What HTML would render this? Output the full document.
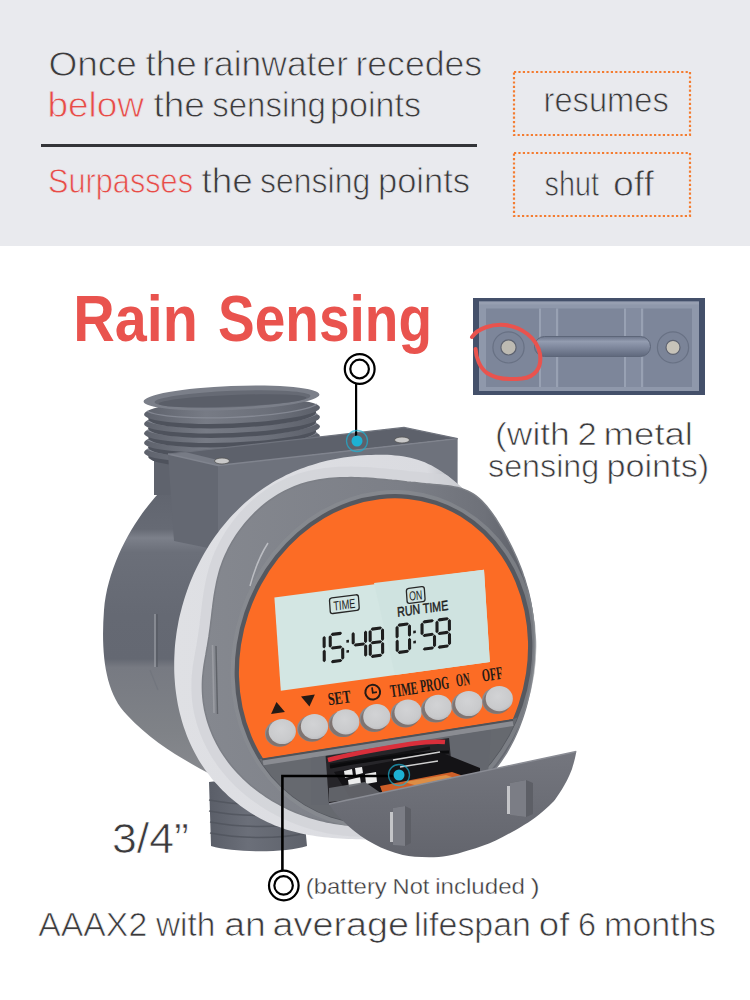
<!DOCTYPE html>
<html><head><meta charset="utf-8">
<style>
html,body{margin:0;padding:0;background:#fff;}
body{width:750px;height:1000px;overflow:hidden;position:relative;}
svg{position:absolute;left:0;top:0;display:block;}
text{font-family:"Liberation Sans",sans-serif;}
</style></head>
<body>
<svg width="750" height="1000" viewBox="0 0 750 1000">
<!-- top banner -->
<rect x="0" y="0" width="750" height="246" fill="#e9eaee"/>
<g stroke="#e9eaee" stroke-width="0.8">
<text x="48.4" y="75.5" font-size="35" font-weight="400" fill="#3b3a3c" textLength="88.6" lengthAdjust="spacingAndGlyphs">Once</text>
<text x="145.4" y="75.5" font-size="35" font-weight="400" fill="#3b3a3c" textLength="51.4" lengthAdjust="spacingAndGlyphs">the</text>
<text x="202.2" y="75.5" font-size="35" font-weight="400" fill="#3b3a3c" textLength="145.8" lengthAdjust="spacingAndGlyphs">rainwater</text>
<text x="355.4" y="75.5" font-size="35" font-weight="400" fill="#3b3a3c" textLength="126.8" lengthAdjust="spacingAndGlyphs">recedes</text>
<text x="47.4" y="117" font-size="35" font-weight="400" fill="#e84c47" textLength="96.6" lengthAdjust="spacingAndGlyphs">below</text>
<text x="153.4" y="117" font-size="35" font-weight="400" fill="#3b3a3c" textLength="51.4" lengthAdjust="spacingAndGlyphs">the</text>
<text x="212.2" y="117" font-size="35" font-weight="400" fill="#3b3a3c" textLength="113.8" lengthAdjust="spacingAndGlyphs">sensing</text>
<text x="330.0" y="117" font-size="35" font-weight="400" fill="#3b3a3c" textLength="91.0" lengthAdjust="spacingAndGlyphs">points</text>
<text x="48.0" y="193.3" font-size="35" font-weight="400" fill="#e84c47" textLength="145.0" lengthAdjust="spacingAndGlyphs">Surpasses</text>
<text x="201.4" y="193.3" font-size="35" font-weight="400" fill="#3b3a3c" textLength="51.4" lengthAdjust="spacingAndGlyphs">the</text>
<text x="260.0" y="193.3" font-size="35" font-weight="400" fill="#3b3a3c" textLength="110.2" lengthAdjust="spacingAndGlyphs">sensing</text>
<text x="378.0" y="193.3" font-size="35" font-weight="400" fill="#3b3a3c" textLength="92.0" lengthAdjust="spacingAndGlyphs">points</text>
<text x="543.6" y="112" font-size="35" font-weight="400" fill="#3b3a3c" textLength="125.2" lengthAdjust="spacingAndGlyphs">resumes</text>
<text x="544.6" y="196" font-size="35" font-weight="400" fill="#3b3a3c" textLength="54.4" lengthAdjust="spacingAndGlyphs">shut</text>
<text x="613.0" y="196" font-size="35" font-weight="400" fill="#3b3a3c" textLength="41.0" lengthAdjust="spacingAndGlyphs">off</text>
</g>
<rect x="41" y="144" width="436" height="3" fill="#333438"/>
<rect x="514" y="72" width="176" height="63" fill="none" stroke="#f47c30" stroke-width="2.2" stroke-dasharray="2.2 2.2"/>
<rect x="514" y="153" width="176" height="63" fill="none" stroke="#f47c30" stroke-width="2.2" stroke-dasharray="2.2 2.2"/>

<!-- Rain Sensing -->
<text x="73.2" y="341" font-size="64" font-weight="700" fill="#e9534e" textLength="124.6" lengthAdjust="spacingAndGlyphs">Rain</text>
<text x="218.0" y="341" font-size="64" font-weight="700" fill="#e9534e" textLength="214.0" lengthAdjust="spacingAndGlyphs">Sensing</text>

<!-- inset image -->
<g>
<rect x="473" y="298" width="232" height="97" fill="#44506a"/>
<rect x="479" y="301.5" width="220" height="89.5" fill="#8f98ab"/>
<rect x="486" y="308.5" width="206" height="78.5" fill="#7d869a"/>
<rect x="479" y="301.5" width="220" height="3" fill="#9aa2b4" opacity="0.7"/>
<g fill="#98a1b3">
<rect x="539" y="308.5" width="2.2" height="78.5"/><rect x="556" y="308.5" width="2.2" height="78.5"/>
<rect x="624" y="308.5" width="2.2" height="78.5"/><rect x="641" y="308.5" width="2.2" height="78.5"/>
</g>
<rect x="541" y="308.5" width="15" height="78.5" fill="#838ca0"/>
<rect x="626" y="308.5" width="15" height="78.5" fill="#838ca0"/>
<defs><linearGradient id="hdl" x1="0" y1="0" x2="0" y2="1"><stop offset="0" stop-color="#6c758a"/><stop offset="0.25" stop-color="#939cb0"/><stop offset="0.6" stop-color="#7b8499"/><stop offset="1" stop-color="#5f687c"/></linearGradient></defs>
<rect x="534.5" y="336.5" width="116" height="20" rx="10" fill="url(#hdl)" stroke="#5d6679" stroke-width="1"/>
<circle cx="508.5" cy="347.4" r="15.6" fill="#7b8498" stroke="#687184" stroke-width="1.2"/>
<circle cx="508.5" cy="347.4" r="7.6" fill="#bdbab2" stroke="#5d6270" stroke-width="1.2"/>
<circle cx="673" cy="347.4" r="15.6" fill="#7b8498" stroke="#687184" stroke-width="1.2"/>
<circle cx="673" cy="347.4" r="7" fill="#c7c3b9" stroke="#5d6270" stroke-width="1.2"/>
<path d="M472,337 C478,328 492,324 505,325 C522,327 537,338 540,354 C542,368 535,377 522,378.6 C508,380 496,379 487,373 C480,368 476,358 475.6,349" fill="none" stroke="#e9534e" stroke-width="4" stroke-linecap="round"/>
</g>
<g stroke="#ffffff" stroke-width="0.7">
<text x="495.0" y="444.6" font-size="32" font-weight="400" fill="#3b3a3c" textLength="74.8" lengthAdjust="spacingAndGlyphs">(with</text>
<text x="577.4" y="444.6" font-size="32" font-weight="400" fill="#3b3a3c" textLength="19.2" lengthAdjust="spacingAndGlyphs">2</text>
<text x="603.6" y="444.6" font-size="32" font-weight="400" fill="#3b3a3c" textLength="89.4" lengthAdjust="spacingAndGlyphs">metal</text>
<text x="488.0" y="476.6" font-size="32" font-weight="400" fill="#3b3a3c" textLength="111.2" lengthAdjust="spacingAndGlyphs">sensing</text>
<text x="606.4" y="476.6" font-size="32" font-weight="400" fill="#3b3a3c" textLength="102.8" lengthAdjust="spacingAndGlyphs">points)</text>
</g>

<!-- DEVICE -->
<g id="device">
<defs>
<linearGradient id="cyl" x1="0" y1="0" x2="0" y2="1">
<stop offset="0" stop-color="#60646e"/><stop offset="0.15" stop-color="#666a74"/><stop offset="0.18" stop-color="#7c808a"/><stop offset="0.23" stop-color="#6b6f79"/><stop offset="0.45" stop-color="#656973"/><stop offset="0.6" stop-color="#646872"/><stop offset="0.63" stop-color="#777a82"/><stop offset="0.85" stop-color="#7f8287"/><stop offset="1" stop-color="#87898e"/>
</linearGradient>
<linearGradient id="ring" x1="0" y1="0" x2="1" y2="0">
<stop offset="0" stop-color="#dfe0e4"/><stop offset="0.7" stop-color="#dadbe0"/><stop offset="0.8" stop-color="#b3b5bb"/><stop offset="0.9" stop-color="#6c6f77"/><stop offset="1" stop-color="#5a5d65"/>
</linearGradient>
<linearGradient id="house" x1="0" y1="0" x2="1" y2="0">
<stop offset="0" stop-color="#85888f"/><stop offset="0.6" stop-color="#7c7f87"/><stop offset="0.85" stop-color="#6e7179"/><stop offset="1" stop-color="#5a5d65"/>
</linearGradient>
<linearGradient id="thread" x1="0" y1="0" x2="1" y2="0">
<stop offset="0" stop-color="#5e626c"/><stop offset="0.35" stop-color="#777b85"/><stop offset="0.7" stop-color="#6c707a"/><stop offset="1" stop-color="#5c606a"/>
</linearGradient>
<linearGradient id="pipe2" x1="0" y1="0" x2="1" y2="0"><stop offset="0" stop-color="#5a5e68"/><stop offset="0.4" stop-color="#6b6f79"/><stop offset="1" stop-color="#5e626b"/></linearGradient>
<linearGradient id="door" x1="0" y1="0" x2="0" y2="1">
<stop offset="0" stop-color="#74767e"/><stop offset="1" stop-color="#63656d"/>
</linearGradient>
<radialGradient id="btn" cx="0.45" cy="0.4" r="0.7">
<stop offset="0" stop-color="#d2d3d5"/><stop offset="0.7" stop-color="#c9cacc"/><stop offset="1" stop-color="#b4b5b9"/>
</radialGradient>
</defs>
<!-- bottom pipe (behind) -->
<path d="M209,782 L300,772 L307,846 C285,853 235,853 211,846 Z" fill="url(#pipe2)"/>
<g fill="none" stroke="#50545d" stroke-width="1.6" opacity="0.8">
<path d="M209,800 C240,806 280,806 304,800"/><path d="M209,811 C240,817 280,817 305,811"/><path d="M210,822 C240,828 280,828 306,822"/><path d="M210,833 C240,839 280,839 307,833"/>
</g>
<!-- cylinder body -->
<path d="M166,486 C140,510 108,560 104,610 C101,650 104,692 127,715 C152,742 182,759 210,774 L330,774 L330,486 Z" fill="url(#cyl)"/>
<path d="M155,614 L155,667" stroke="#9da0a7" stroke-width="1.2"/><path d="M157,614 L157,667" stroke="#50545d" stroke-width="1"/>
<path d="M150,670 L158,690" stroke="#70747c" stroke-width="1.2" opacity="0.7"/>
<!-- neck -->
<rect x="154" y="450" width="22" height="45" fill="#5f636d"/>
<!-- threaded pipe -->
<ellipse cx="232" cy="453.5" rx="84" ry="12.5" transform="rotate(-2.3 232 449.0)" fill="#4e525c"/><ellipse cx="232" cy="449.0" rx="88" ry="12.5" transform="rotate(-2.3 232 449.0)" fill="url(#thread)"/><path d="M147,450.5 A87,12.5 -2.3 0 0 317,443.5" transform="translate(0,-1.5)" fill="none" stroke="#8e929c" stroke-width="1.3" opacity="0.75"/><ellipse cx="232" cy="444.0" rx="84" ry="12.5" transform="rotate(-2.3 232 439.5)" fill="#4e525c"/><ellipse cx="232" cy="439.5" rx="88" ry="12.5" transform="rotate(-2.3 232 439.5)" fill="url(#thread)"/><path d="M147,441.0 A87,12.5 -2.3 0 0 317,434.0" transform="translate(0,-1.5)" fill="none" stroke="#8e929c" stroke-width="1.3" opacity="0.75"/><ellipse cx="232" cy="434.5" rx="84" ry="12.5" transform="rotate(-2.3 232 430.0)" fill="#4e525c"/><ellipse cx="232" cy="430.0" rx="88" ry="12.5" transform="rotate(-2.3 232 430.0)" fill="url(#thread)"/><path d="M147,431.5 A87,12.5 -2.3 0 0 317,424.5" transform="translate(0,-1.5)" fill="none" stroke="#8e929c" stroke-width="1.3" opacity="0.75"/><ellipse cx="232" cy="425.0" rx="84" ry="12.5" transform="rotate(-2.3 232 420.5)" fill="#4e525c"/><ellipse cx="232" cy="420.5" rx="88" ry="12.5" transform="rotate(-2.3 232 420.5)" fill="url(#thread)"/><path d="M147,422.0 A87,12.5 -2.3 0 0 317,415.0" transform="translate(0,-1.5)" fill="none" stroke="#8e929c" stroke-width="1.3" opacity="0.75"/><ellipse cx="232" cy="415.5" rx="84" ry="12.5" transform="rotate(-2.3 232 411.0)" fill="#4e525c"/><ellipse cx="232" cy="411.0" rx="88" ry="12.5" transform="rotate(-2.3 232 411.0)" fill="url(#thread)"/><path d="M147,412.5 A87,12.5 -2.3 0 0 317,405.5" transform="translate(0,-1.5)" fill="none" stroke="#8e929c" stroke-width="1.3" opacity="0.75"/>
<ellipse cx="231.5" cy="398" rx="88" ry="12" transform="rotate(-2.3 231.5 398)" fill="#7b7f89"/>
<ellipse cx="232.5" cy="399" rx="78" ry="8.2" transform="rotate(-2.3 232.5 399)" fill="#666a74"/>
<ellipse cx="232.5" cy="400.8" rx="74" ry="5.8" transform="rotate(-2.3 232.5 400.8)" fill="#5a5e68"/>
<!-- sensor box -->
<polygon points="168,454 218,465.5 218,550 174,541" fill="#646872"/>
<polygon points="218,465.5 457.6,438.6 457.6,486 420,520 300,540 218,550" fill="#6e727c"/>
<polygon points="168,454 404,427.4 457.6,438.6 218,465.5" fill="#5d616b"/>
<polygon points="168,454 185,452 226,462 218,465.5" fill="#777b85"/>
<polyline points="168,454 218,465.5 457.6,438.6" fill="none" stroke="#80848e" stroke-width="1.4"/>
<polyline points="168,454 404,427.4 457.6,438.6" fill="none" stroke="#6f737d" stroke-width="1.2"/>
<ellipse cx="222" cy="461" rx="7.5" ry="3" fill="#c9c9c9" stroke="#555" stroke-width="0.8"/>
<ellipse cx="402" cy="440" rx="7.5" ry="3" fill="#c9c9c9" stroke="#555" stroke-width="0.8"/>
<!-- face housing -->
<path d="M289.8,473.4 L286.2,475.1 L282.7,476.9 L279.2,478.7 L275.8,480.6 L272.4,482.6 L269.0,484.7 L265.8,486.8 L262.5,489.0 L259.3,491.3 L256.2,493.6 L253.1,496.0 L250.1,498.5 L247.1,501.0 L244.2,503.6 L241.3,506.2 L238.5,508.9 L235.8,511.7 L233.0,514.5 L230.4,517.3 L227.8,520.3 L225.3,523.2 L222.8,526.2 L220.3,529.3 L218.0,532.4 L215.7,535.6 L213.4,538.8 L211.2,542.0 L209.1,545.3 L207.0,548.7 L205.0,552.0 L203.0,555.5 L201.1,558.9 L199.3,562.4 L197.5,565.9 L195.8,569.5 L194.1,573.1 L192.5,576.7 L191.0,580.3 L189.5,584.0 L188.1,587.7 L186.8,591.4 L185.5,595.2 L184.3,599.0 L183.2,602.8 L182.1,606.6 L181.1,610.4 L180.1,614.3 L179.2,618.1 L178.4,622.0 L177.7,625.9 L177.0,629.8 L176.4,633.8 L175.9,637.7 L175.4,641.6 L175.0,645.6 L174.7,649.6 L174.5,653.5 L174.3,657.5 L174.2,661.4 L174.2,665.4 L174.2,669.4 L174.3,673.3 L174.5,677.3 L174.8,681.3 L175.1,685.2 L175.5,689.1 L176.0,693.0 L176.6,696.9 L177.2,700.8 L177.9,704.7 L178.7,708.6 L179.6,712.4 L180.6,716.2 L181.6,720.0 L182.7,723.7 L183.9,727.4 L185.2,731.1 L186.5,734.8 L188.0,738.4 L189.5,742.0 L191.1,745.6 L192.8,749.1 L194.6,752.6 L196.5,756.0 L198.4,759.4 L200.4,762.7 L202.6,766.0 L204.8,769.3 L207.1,772.4 L209.5,775.6 L211.9,778.7 L214.5,781.7 L217.1,784.6 L219.8,787.5 L222.6,790.4 L225.4,793.1 L228.3,795.9 L231.3,798.5 L234.4,801.0 L237.5,803.5 L240.6,805.9 L243.8,808.3 L247.1,810.5 L250.4,812.7 L253.8,814.8 L257.2,816.8 L260.7,818.7 L264.2,820.5 L267.7,822.2 L271.3,823.8 L274.9,825.4 L278.6,826.8 L282.2,828.1 L285.9,829.4 L289.6,830.5 L293.4,831.6 L297.2,832.5 L301.0,833.4 L304.8,834.2 L308.6,834.9 L312.5,835.6 L316.4,836.2 L320.3,836.7 L324.2,837.2 L328.1,837.6 L332.1,837.9 L336.0,838.2 L340.0,838.5 L344.0,838.7 L348.1,838.9 L352.1,839.1 L356.1,839.2 L360.2,839.3 L364.3,839.4 L368.3,839.5 L372.4,839.5 L376.5,839.5 L380.5,839.5 L384.6,839.4 L388.6,839.2 L392.7,839.0 L396.7,838.7 L400.6,838.4 L404.6,837.9 L408.5,837.4 L412.4,836.8 L416.2,836.0 L419.9,835.2 L423.7,834.2 L427.3,833.2 L430.9,832.0 L434.5,830.6 L437.9,829.2 L441.3,827.6 L444.6,825.8 L447.8,823.9 L451.0,821.8 L454.0,819.5 L457.0,817.1 L459.9,814.6 L462.7,812.0 L465.4,809.2 L468.1,806.3 L470.7,803.3 L473.3,800.3 L475.8,797.2 L478.2,794.0 L480.6,790.7 L483.0,787.4 L485.3,784.1 L487.6,780.7 L489.8,777.3 L492.0,773.9 L494.2,770.6 L496.3,767.2 L498.4,763.9 L500.5,760.5 L502.6,757.1 L504.6,753.8 L506.6,750.4 L508.5,747.0 L510.3,743.6 L512.1,740.1 L513.9,736.6 L515.6,733.1 L517.2,729.6 L518.8,726.0 L520.2,722.3 L521.7,718.7 L523.0,715.0 L524.3,711.3 L525.5,707.5 L526.7,703.7 L527.7,699.9 L528.7,696.1 L529.7,692.2 L530.5,688.3 L531.3,684.5 L532.1,680.5 L532.7,676.6 L533.3,672.7 L533.8,668.7 L534.2,664.8 L534.6,660.8 L534.9,656.9 L535.1,652.9 L535.2,648.9 L535.3,644.9 L535.3,641.0 L535.2,637.0 L535.0,633.0 L534.8,629.1 L534.5,625.1 L534.1,621.2 L533.6,617.3 L533.1,613.3 L532.5,609.4 L531.8,605.6 L531.0,601.7 L530.1,597.9 L529.2,594.1 L528.2,590.3 L527.1,586.5 L525.9,582.8 L524.7,579.1 L523.3,575.4 L521.9,571.7 L520.4,568.1 L518.9,564.5 L517.3,561.0 L515.6,557.5 L513.8,554.0 L512.0,550.5 L510.1,547.1 L508.1,543.7 L506.1,540.3 L504.0,537.0 L501.9,533.7 L499.7,530.4 L497.4,527.2 L495.1,524.0 L492.7,520.9 L490.3,517.8 L487.8,514.7 L485.2,511.7 L482.7,508.7 L480.0,505.7 L477.3,502.8 L474.6,499.9 L471.8,497.1 L469.0,494.3 L466.1,491.6 L463.2,488.9 L460.2,486.2 L457.2,483.6 L454.2,481.0 L451.1,478.6 L448.0,476.1 L444.8,473.8 L441.6,471.6 L438.4,469.5 L435.0,467.5 L431.7,465.6 L428.2,463.9 L424.8,462.3 L421.2,461.0 L417.6,459.7 L414.0,458.7 L410.3,457.7 L406.6,457.0 L402.8,456.3 L399.0,455.8 L395.1,455.4 L391.2,455.0 L387.3,454.8 L383.4,454.7 L379.5,454.7 L375.5,454.7 L371.5,454.9 L367.5,455.1 L363.5,455.3 L359.5,455.6 L355.5,456.0 L351.5,456.5 L347.5,457.0 L343.5,457.6 L339.5,458.2 L335.6,459.0 L331.6,459.8 L327.7,460.6 L323.7,461.6 L319.8,462.6 L316.0,463.7 L312.1,464.9 L308.3,466.1 L304.5,467.4 L300.8,468.8 L297.1,470.3 L293.4,471.8 Z" fill="url(#ring)"/>
<clipPath id="ringcl"><path d="M289.8,473.4 L286.2,475.1 L282.7,476.9 L279.2,478.7 L275.8,480.6 L272.4,482.6 L269.0,484.7 L265.8,486.8 L262.5,489.0 L259.3,491.3 L256.2,493.6 L253.1,496.0 L250.1,498.5 L247.1,501.0 L244.2,503.6 L241.3,506.2 L238.5,508.9 L235.8,511.7 L233.0,514.5 L230.4,517.3 L227.8,520.3 L225.3,523.2 L222.8,526.2 L220.3,529.3 L218.0,532.4 L215.7,535.6 L213.4,538.8 L211.2,542.0 L209.1,545.3 L207.0,548.7 L205.0,552.0 L203.0,555.5 L201.1,558.9 L199.3,562.4 L197.5,565.9 L195.8,569.5 L194.1,573.1 L192.5,576.7 L191.0,580.3 L189.5,584.0 L188.1,587.7 L186.8,591.4 L185.5,595.2 L184.3,599.0 L183.2,602.8 L182.1,606.6 L181.1,610.4 L180.1,614.3 L179.2,618.1 L178.4,622.0 L177.7,625.9 L177.0,629.8 L176.4,633.8 L175.9,637.7 L175.4,641.6 L175.0,645.6 L174.7,649.6 L174.5,653.5 L174.3,657.5 L174.2,661.4 L174.2,665.4 L174.2,669.4 L174.3,673.3 L174.5,677.3 L174.8,681.3 L175.1,685.2 L175.5,689.1 L176.0,693.0 L176.6,696.9 L177.2,700.8 L177.9,704.7 L178.7,708.6 L179.6,712.4 L180.6,716.2 L181.6,720.0 L182.7,723.7 L183.9,727.4 L185.2,731.1 L186.5,734.8 L188.0,738.4 L189.5,742.0 L191.1,745.6 L192.8,749.1 L194.6,752.6 L196.5,756.0 L198.4,759.4 L200.4,762.7 L202.6,766.0 L204.8,769.3 L207.1,772.4 L209.5,775.6 L211.9,778.7 L214.5,781.7 L217.1,784.6 L219.8,787.5 L222.6,790.4 L225.4,793.1 L228.3,795.9 L231.3,798.5 L234.4,801.0 L237.5,803.5 L240.6,805.9 L243.8,808.3 L247.1,810.5 L250.4,812.7 L253.8,814.8 L257.2,816.8 L260.7,818.7 L264.2,820.5 L267.7,822.2 L271.3,823.8 L274.9,825.4 L278.6,826.8 L282.2,828.1 L285.9,829.4 L289.6,830.5 L293.4,831.6 L297.2,832.5 L301.0,833.4 L304.8,834.2 L308.6,834.9 L312.5,835.6 L316.4,836.2 L320.3,836.7 L324.2,837.2 L328.1,837.6 L332.1,837.9 L336.0,838.2 L340.0,838.5 L344.0,838.7 L348.1,838.9 L352.1,839.1 L356.1,839.2 L360.2,839.3 L364.3,839.4 L368.3,839.5 L372.4,839.5 L376.5,839.5 L380.5,839.5 L384.6,839.4 L388.6,839.2 L392.7,839.0 L396.7,838.7 L400.6,838.4 L404.6,837.9 L408.5,837.4 L412.4,836.8 L416.2,836.0 L419.9,835.2 L423.7,834.2 L427.3,833.2 L430.9,832.0 L434.5,830.6 L437.9,829.2 L441.3,827.6 L444.6,825.8 L447.8,823.9 L451.0,821.8 L454.0,819.5 L457.0,817.1 L459.9,814.6 L462.7,812.0 L465.4,809.2 L468.1,806.3 L470.7,803.3 L473.3,800.3 L475.8,797.2 L478.2,794.0 L480.6,790.7 L483.0,787.4 L485.3,784.1 L487.6,780.7 L489.8,777.3 L492.0,773.9 L494.2,770.6 L496.3,767.2 L498.4,763.9 L500.5,760.5 L502.6,757.1 L504.6,753.8 L506.6,750.4 L508.5,747.0 L510.3,743.6 L512.1,740.1 L513.9,736.6 L515.6,733.1 L517.2,729.6 L518.8,726.0 L520.2,722.3 L521.7,718.7 L523.0,715.0 L524.3,711.3 L525.5,707.5 L526.7,703.7 L527.7,699.9 L528.7,696.1 L529.7,692.2 L530.5,688.3 L531.3,684.5 L532.1,680.5 L532.7,676.6 L533.3,672.7 L533.8,668.7 L534.2,664.8 L534.6,660.8 L534.9,656.9 L535.1,652.9 L535.2,648.9 L535.3,644.9 L535.3,641.0 L535.2,637.0 L535.0,633.0 L534.8,629.1 L534.5,625.1 L534.1,621.2 L533.6,617.3 L533.1,613.3 L532.5,609.4 L531.8,605.6 L531.0,601.7 L530.1,597.9 L529.2,594.1 L528.2,590.3 L527.1,586.5 L525.9,582.8 L524.7,579.1 L523.3,575.4 L521.9,571.7 L520.4,568.1 L518.9,564.5 L517.3,561.0 L515.6,557.5 L513.8,554.0 L512.0,550.5 L510.1,547.1 L508.1,543.7 L506.1,540.3 L504.0,537.0 L501.9,533.7 L499.7,530.4 L497.4,527.2 L495.1,524.0 L492.7,520.9 L490.3,517.8 L487.8,514.7 L485.2,511.7 L482.7,508.7 L480.0,505.7 L477.3,502.8 L474.6,499.9 L471.8,497.1 L469.0,494.3 L466.1,491.6 L463.2,488.9 L460.2,486.2 L457.2,483.6 L454.2,481.0 L451.1,478.6 L448.0,476.1 L444.8,473.8 L441.6,471.6 L438.4,469.5 L435.0,467.5 L431.7,465.6 L428.2,463.9 L424.8,462.3 L421.2,461.0 L417.6,459.7 L414.0,458.7 L410.3,457.7 L406.6,457.0 L402.8,456.3 L399.0,455.8 L395.1,455.4 L391.2,455.0 L387.3,454.8 L383.4,454.7 L379.5,454.7 L375.5,454.7 L371.5,454.9 L367.5,455.1 L363.5,455.3 L359.5,455.6 L355.5,456.0 L351.5,456.5 L347.5,457.0 L343.5,457.6 L339.5,458.2 L335.6,459.0 L331.6,459.8 L327.7,460.6 L323.7,461.6 L319.8,462.6 L316.0,463.7 L312.1,464.9 L308.3,466.1 L304.5,467.4 L300.8,468.8 L297.1,470.3 L293.4,471.8 Z"/></clipPath>
<g clip-path="url(#ringcl)"><path d="M291.2,488.1 L287.9,489.6 L284.7,491.2 L281.5,492.9 L278.4,494.7 L275.3,496.6 L272.3,498.6 L269.3,500.7 L266.3,502.9 L263.5,505.2 L260.6,507.6 L257.9,510.1 L255.2,512.6 L252.6,515.2 L250.0,517.9 L247.5,520.7 L245.1,523.5 L242.8,526.4 L240.5,529.4 L238.3,532.4 L236.2,535.4 L234.2,538.6 L232.3,541.7 L230.5,544.9 L228.7,548.2 L227.1,551.5 L225.5,554.8 L224.1,558.1 L222.7,561.5 L221.5,564.9 L220.3,568.3 L219.3,571.8 L218.4,575.3 L217.5,578.7 L216.7,582.2 L216.0,585.8 L215.3,589.3 L214.7,592.9 L214.1,596.4 L213.6,600.0 L213.1,603.6 L212.7,607.2 L212.2,610.8 L211.8,614.5 L211.4,618.1 L210.9,621.7 L210.5,625.4 L210.0,629.1 L209.5,632.7 L209.0,636.4 L208.4,640.1 L207.8,643.8 L207.2,647.5 L206.5,651.2 L205.9,654.9 L205.2,658.6 L204.6,662.2 L204.0,665.9 L203.5,669.6 L203.1,673.3 L202.7,677.0 L202.5,680.7 L202.4,684.3 L202.4,688.0 L202.5,691.6 L202.7,695.2 L203.0,698.8 L203.4,702.4 L204.0,706.0 L204.6,709.6 L205.4,713.1 L206.3,716.6 L207.2,720.1 L208.3,723.5 L209.5,726.9 L210.7,730.3 L212.1,733.6 L213.5,737.0 L215.1,740.2 L216.7,743.4 L218.5,746.6 L220.3,749.8 L222.2,752.8 L224.2,755.9 L226.3,758.9 L228.4,761.8 L230.7,764.7 L233.0,767.5 L235.4,770.3 L237.9,773.0 L240.4,775.6 L243.0,778.2 L245.7,780.7 L248.4,783.2 L251.2,785.6 L254.1,787.9 L257.0,790.2 L260.0,792.4 L263.0,794.5 L266.0,796.6 L269.2,798.6 L272.3,800.6 L275.5,802.4 L278.7,804.2 L282.0,806.0 L285.3,807.6 L288.6,809.2 L292.0,810.7 L295.4,812.2 L298.8,813.6 L302.2,814.9 L305.7,816.1 L309.2,817.2 L312.7,818.3 L316.2,819.3 L319.7,820.3 L323.3,821.1 L326.9,821.9 L330.4,822.6 L334.0,823.3 L337.7,823.8 L341.3,824.3 L344.9,824.8 L348.5,825.1 L352.2,825.4 L355.8,825.6 L359.5,825.8 L363.2,825.8 L366.8,825.8 L370.5,825.7 L374.2,825.6 L377.8,825.4 L381.5,825.1 L385.1,824.7 L388.8,824.3 L392.4,823.8 L396.1,823.2 L399.7,822.5 L403.3,821.8 L406.9,821.0 L410.5,820.1 L414.1,819.2 L417.6,818.2 L421.2,817.1 L424.7,815.9 L428.2,814.7 L431.6,813.4 L435.0,812.0 L438.4,810.6 L441.8,809.1 L445.1,807.5 L448.4,805.9 L451.7,804.2 L454.9,802.4 L458.0,800.5 L461.1,798.6 L464.2,796.6 L467.2,794.6 L470.1,792.5 L473.0,790.3 L475.9,788.0 L478.7,785.7 L481.4,783.3 L484.0,780.8 L486.6,778.3 L489.1,775.7 L491.5,773.1 L493.9,770.4 L496.2,767.6 L498.4,764.7 L500.6,761.8 L502.6,758.9 L504.6,755.8 L506.6,752.8 L508.4,749.6 L510.2,746.5 L511.9,743.2 L513.6,740.0 L515.1,736.7 L516.7,733.3 L518.1,729.9 L519.5,726.5 L520.8,723.1 L522.1,719.6 L523.3,716.1 L524.4,712.6 L525.5,709.0 L526.5,705.4 L527.4,701.8 L528.3,698.2 L529.1,694.6 L529.9,690.9 L530.6,687.3 L531.3,683.6 L531.9,679.9 L532.4,676.3 L532.9,672.6 L533.3,668.9 L533.7,665.2 L534.0,661.5 L534.2,657.8 L534.4,654.1 L534.5,650.4 L534.6,646.7 L534.6,643.0 L534.6,639.3 L534.5,635.6 L534.3,631.9 L534.1,628.3 L533.8,624.6 L533.4,621.0 L533.0,617.4 L532.5,613.7 L532.0,610.2 L531.4,606.6 L530.8,603.0 L530.1,599.5 L529.3,596.0 L528.5,592.5 L527.6,589.0 L526.6,585.6 L525.6,582.2 L524.6,578.8 L523.4,575.4 L522.3,572.0 L521.0,568.6 L519.7,565.3 L518.4,562.0 L517.0,558.6 L515.5,555.3 L514.0,552.0 L512.4,548.7 L510.8,545.3 L509.1,542.0 L507.3,538.6 L505.5,535.3 L503.7,531.9 L501.8,528.5 L499.8,525.2 L497.8,521.8 L495.7,518.5 L493.6,515.3 L491.3,512.1 L489.0,509.1 L486.7,506.2 L484.2,503.4 L481.7,500.8 L479.0,498.4 L476.3,496.1 L473.5,494.1 L470.5,492.4 L467.5,490.9 L464.4,489.6 L461.2,488.5 L457.9,487.6 L454.5,486.9 L451.1,486.3 L447.6,485.8 L444.0,485.4 L440.4,485.0 L436.8,484.7 L433.2,484.4 L429.5,484.1 L425.8,483.8 L422.1,483.4 L418.4,483.0 L414.7,482.6 L411.0,482.3 L407.2,481.9 L403.5,481.4 L399.7,481.0 L395.9,480.6 L392.2,480.3 L388.4,479.9 L384.7,479.5 L380.9,479.2 L377.1,478.9 L373.4,478.6 L369.6,478.3 L365.9,478.1 L362.1,477.9 L358.4,477.8 L354.7,477.7 L351.0,477.6 L347.3,477.7 L343.6,477.7 L340.0,477.8 L336.3,478.0 L332.7,478.3 L329.1,478.6 L325.5,479.0 L322.0,479.5 L318.4,480.1 L314.9,480.7 L311.4,481.5 L308.0,482.3 L304.5,483.3 L301.1,484.3 L297.8,485.5 L294.5,486.7 Z" fill="none" stroke="#d2d3d8" stroke-width="22" opacity="0.8"/></g>
<path d="M291.2,488.1 L287.9,489.6 L284.7,491.2 L281.5,492.9 L278.4,494.7 L275.3,496.6 L272.3,498.6 L269.3,500.7 L266.3,502.9 L263.5,505.2 L260.6,507.6 L257.9,510.1 L255.2,512.6 L252.6,515.2 L250.0,517.9 L247.5,520.7 L245.1,523.5 L242.8,526.4 L240.5,529.4 L238.3,532.4 L236.2,535.4 L234.2,538.6 L232.3,541.7 L230.5,544.9 L228.7,548.2 L227.1,551.5 L225.5,554.8 L224.1,558.1 L222.7,561.5 L221.5,564.9 L220.3,568.3 L219.3,571.8 L218.4,575.3 L217.5,578.7 L216.7,582.2 L216.0,585.8 L215.3,589.3 L214.7,592.9 L214.1,596.4 L213.6,600.0 L213.1,603.6 L212.7,607.2 L212.2,610.8 L211.8,614.5 L211.4,618.1 L210.9,621.7 L210.5,625.4 L210.0,629.1 L209.5,632.7 L209.0,636.4 L208.4,640.1 L207.8,643.8 L207.2,647.5 L206.5,651.2 L205.9,654.9 L205.2,658.6 L204.6,662.2 L204.0,665.9 L203.5,669.6 L203.1,673.3 L202.7,677.0 L202.5,680.7 L202.4,684.3 L202.4,688.0 L202.5,691.6 L202.7,695.2 L203.0,698.8 L203.4,702.4 L204.0,706.0 L204.6,709.6 L205.4,713.1 L206.3,716.6 L207.2,720.1 L208.3,723.5 L209.5,726.9 L210.7,730.3 L212.1,733.6 L213.5,737.0 L215.1,740.2 L216.7,743.4 L218.5,746.6 L220.3,749.8 L222.2,752.8 L224.2,755.9 L226.3,758.9 L228.4,761.8 L230.7,764.7 L233.0,767.5 L235.4,770.3 L237.9,773.0 L240.4,775.6 L243.0,778.2 L245.7,780.7 L248.4,783.2 L251.2,785.6 L254.1,787.9 L257.0,790.2 L260.0,792.4 L263.0,794.5 L266.0,796.6 L269.2,798.6 L272.3,800.6 L275.5,802.4 L278.7,804.2 L282.0,806.0 L285.3,807.6 L288.6,809.2 L292.0,810.7 L295.4,812.2 L298.8,813.6 L302.2,814.9 L305.7,816.1 L309.2,817.2 L312.7,818.3 L316.2,819.3 L319.7,820.3 L323.3,821.1 L326.9,821.9 L330.4,822.6 L334.0,823.3 L337.7,823.8 L341.3,824.3 L344.9,824.8 L348.5,825.1 L352.2,825.4 L355.8,825.6 L359.5,825.8 L363.2,825.8 L366.8,825.8 L370.5,825.7 L374.2,825.6 L377.8,825.4 L381.5,825.1 L385.1,824.7 L388.8,824.3 L392.4,823.8 L396.1,823.2 L399.7,822.5 L403.3,821.8 L406.9,821.0 L410.5,820.1 L414.1,819.2 L417.6,818.2 L421.2,817.1 L424.7,815.9 L428.2,814.7 L431.6,813.4 L435.0,812.0 L438.4,810.6 L441.8,809.1 L445.1,807.5 L448.4,805.9 L451.7,804.2 L454.9,802.4 L458.0,800.5 L461.1,798.6 L464.2,796.6 L467.2,794.6 L470.1,792.5 L473.0,790.3 L475.9,788.0 L478.7,785.7 L481.4,783.3 L484.0,780.8 L486.6,778.3 L489.1,775.7 L491.5,773.1 L493.9,770.4 L496.2,767.6 L498.4,764.7 L500.6,761.8 L502.6,758.9 L504.6,755.8 L506.6,752.8 L508.4,749.6 L510.2,746.5 L511.9,743.2 L513.6,740.0 L515.1,736.7 L516.7,733.3 L518.1,729.9 L519.5,726.5 L520.8,723.1 L522.1,719.6 L523.3,716.1 L524.4,712.6 L525.5,709.0 L526.5,705.4 L527.4,701.8 L528.3,698.2 L529.1,694.6 L529.9,690.9 L530.6,687.3 L531.3,683.6 L531.9,679.9 L532.4,676.3 L532.9,672.6 L533.3,668.9 L533.7,665.2 L534.0,661.5 L534.2,657.8 L534.4,654.1 L534.5,650.4 L534.6,646.7 L534.6,643.0 L534.6,639.3 L534.5,635.6 L534.3,631.9 L534.1,628.3 L533.8,624.6 L533.4,621.0 L533.0,617.4 L532.5,613.7 L532.0,610.2 L531.4,606.6 L530.8,603.0 L530.1,599.5 L529.3,596.0 L528.5,592.5 L527.6,589.0 L526.6,585.6 L525.6,582.2 L524.6,578.8 L523.4,575.4 L522.3,572.0 L521.0,568.6 L519.7,565.3 L518.4,562.0 L517.0,558.6 L515.5,555.3 L514.0,552.0 L512.4,548.7 L510.8,545.3 L509.1,542.0 L507.3,538.6 L505.5,535.3 L503.7,531.9 L501.8,528.5 L499.8,525.2 L497.8,521.8 L495.7,518.5 L493.6,515.3 L491.3,512.1 L489.0,509.1 L486.7,506.2 L484.2,503.4 L481.7,500.8 L479.0,498.4 L476.3,496.1 L473.5,494.1 L470.5,492.4 L467.5,490.9 L464.4,489.6 L461.2,488.5 L457.9,487.6 L454.5,486.9 L451.1,486.3 L447.6,485.8 L444.0,485.4 L440.4,485.0 L436.8,484.7 L433.2,484.4 L429.5,484.1 L425.8,483.8 L422.1,483.4 L418.4,483.0 L414.7,482.6 L411.0,482.3 L407.2,481.9 L403.5,481.4 L399.7,481.0 L395.9,480.6 L392.2,480.3 L388.4,479.9 L384.7,479.5 L380.9,479.2 L377.1,478.9 L373.4,478.6 L369.6,478.3 L365.9,478.1 L362.1,477.9 L358.4,477.8 L354.7,477.7 L351.0,477.6 L347.3,477.7 L343.6,477.7 L340.0,477.8 L336.3,478.0 L332.7,478.3 L329.1,478.6 L325.5,479.0 L322.0,479.5 L318.4,480.1 L314.9,480.7 L311.4,481.5 L308.0,482.3 L304.5,483.3 L301.1,484.3 L297.8,485.5 L294.5,486.7 Z" fill="url(#house)" stroke="#7c7f86" stroke-width="1.5"/>
<path d="M212.5,645 L214,713" stroke="#9a9ca2" stroke-width="1.6"/><path d="M216,646 L217.5,714" stroke="#5f6268" stroke-width="1.4"/>
<path d="M268,543 Q257,560 250,586" stroke="#c9cbd0" stroke-width="1.5" fill="none" opacity="0.8"/>
<ellipse cx="383.5" cy="659.1" rx="171" ry="150.7" transform="rotate(-71.5 383.5 659.1)" fill="#8b8d93" opacity="0.6"/>
<ellipse cx="383.5" cy="659.1" rx="167" ry="146.7" transform="rotate(-71.5 383.5 659.1)" fill="#55585f"/>
<!-- lower panel (below face) -->
<clipPath id="lowclip"><polygon points="200,759 264,759 511,720 560,700 560,900 200,900"/></clipPath>
<g clip-path="url(#lowclip)"><ellipse cx="383.5" cy="659.1" rx="166.2" ry="146" transform="rotate(-71.5 383.5 659.1)" fill="#66696f"/></g>
<!-- orange face clipped by chord -->
<clipPath id="faceclip"><polygon points="200,480 560,480 560,712 511,719.5 264,758.5 200,758.5"/></clipPath>
<g clip-path="url(#faceclip)"><ellipse cx="383.5" cy="659.1" rx="162.7" ry="142.4" transform="rotate(-71.5 383.5 659.1)" fill="#fc6c25"/></g>
<g clip-path="url(#lowclip)"><polyline points="263,762.4 513,723" stroke="#8a8c92" stroke-width="6" fill="none"/></g><polyline points="262,759.5 513,720" stroke="#4f5258" stroke-width="2" fill="none"/>
<!-- LCD -->
<polygon points="274.4,597.4 484,569.8 489.8,662 280.8,690.8" fill="#d3e6e3"/>
<polygon points="374,583 484,569.8 489.8,662 395,675" fill="#cfe3e0"/>
<g transform="matrix(0.998,-0.1314,0.0688,1.004,274.4,597.4)" fill="#1e1e1e">
<rect x="54.5" y="8" width="29" height="15.5" rx="2.5" fill="none" stroke="#262626" stroke-width="1.3"/>
<text x="69" y="20.8" font-size="13" text-anchor="middle" textLength="22" lengthAdjust="spacingAndGlyphs">TIME</text>
<rect x="131.5" y="8.5" width="18" height="15" rx="2.5" fill="none" stroke="#262626" stroke-width="1.3"/>
<text x="140.5" y="21" font-size="13" text-anchor="middle" textLength="13" lengthAdjust="spacingAndGlyphs">ON</text>
<text x="121" y="35" font-size="13.5" stroke="#1e1e1e" stroke-width="0.45" textLength="51" lengthAdjust="spacingAndGlyphs">RUN TIME</text>
<path transform="skewX(-3.5)" d="M49.5,44.5 L51.0,46.0 L51.0,55.5 L49.5,57.0 L47.9,55.5 L47.9,46.0 ZM49.5,58.0 L51.0,59.5 L51.0,69.0 L49.5,70.5 L47.9,69.0 L47.9,59.5 ZM56.0,44.0 L57.5,42.5 L66.0,42.5 L67.5,44.0 L66.0,45.6 L57.5,45.6 ZM55.5,44.5 L57.1,46.0 L57.1,55.5 L55.5,57.0 L54.0,55.5 L54.0,46.0 ZM56.0,57.5 L57.5,56.0 L66.0,56.0 L67.5,57.5 L66.0,59.0 L57.5,59.0 ZM68.0,58.0 L69.5,59.5 L69.5,69.0 L68.0,70.5 L66.4,69.0 L66.4,59.5 ZM56.0,71.0 L57.5,69.4 L66.0,69.4 L67.5,71.0 L66.0,72.5 L57.5,72.5 ZM71.7,51.5 h2.6 v2.6 h-2.6 Z M71.7,61.5 h2.6 v2.6 h-2.6 ZM78.5,44.5 L80.1,46.0 L80.1,55.5 L78.5,57.0 L77.0,55.5 L77.0,46.0 ZM79.0,57.5 L80.5,56.0 L89.0,56.0 L90.5,57.5 L89.0,59.0 L80.5,59.0 ZM91.0,44.5 L92.5,46.0 L92.5,55.5 L91.0,57.0 L89.4,55.5 L89.4,46.0 ZM91.0,58.0 L92.5,59.5 L92.5,69.0 L91.0,70.5 L89.4,69.0 L89.4,59.5 ZM96.0,44.0 L97.5,42.5 L106.0,42.5 L107.5,44.0 L106.0,45.6 L97.5,45.6 ZM108.0,44.5 L109.5,46.0 L109.5,55.5 L108.0,57.0 L106.4,55.5 L106.4,46.0 ZM108.0,58.0 L109.5,59.5 L109.5,69.0 L108.0,70.5 L106.4,69.0 L106.4,59.5 ZM96.0,71.0 L97.5,69.4 L106.0,69.4 L107.5,71.0 L106.0,72.5 L97.5,72.5 ZM95.5,58.0 L97.1,59.5 L97.1,69.0 L95.5,70.5 L94.0,69.0 L94.0,59.5 ZM95.5,44.5 L97.1,46.0 L97.1,55.5 L95.5,57.0 L94.0,55.5 L94.0,46.0 ZM96.0,57.5 L97.5,56.0 L106.0,56.0 L107.5,57.5 L106.0,59.0 L97.5,59.0 ZM123.0,43.5 L124.5,42.0 L132.9,42.0 L134.5,43.5 L132.9,45.1 L124.5,45.1 ZM134.9,44.0 L136.5,45.5 L136.5,55.0 L134.9,56.5 L133.4,55.0 L133.4,45.5 ZM134.9,57.5 L136.5,59.0 L136.5,68.5 L134.9,70.0 L133.4,68.5 L133.4,59.0 ZM123.0,70.5 L124.5,68.9 L132.9,68.9 L134.5,70.5 L132.9,72.0 L124.5,72.0 ZM122.5,57.5 L124.1,59.0 L124.1,68.5 L122.5,70.0 L121.0,68.5 L121.0,59.0 ZM122.5,44.0 L124.1,45.5 L124.1,55.0 L122.5,56.5 L121.0,55.0 L121.0,45.5 ZM138.7,51.0 h2.6 v2.6 h-2.6 Z M138.7,61.0 h2.6 v2.6 h-2.6 ZM148.0,43.5 L149.6,42.0 L157.9,42.0 L159.5,43.5 L157.9,45.1 L149.6,45.1 ZM147.6,44.0 L149.1,45.5 L149.1,55.0 L147.6,56.5 L146.0,55.0 L146.0,45.5 ZM148.0,57.0 L149.6,55.5 L157.9,55.5 L159.5,57.0 L157.9,58.5 L149.6,58.5 ZM159.9,57.5 L161.5,59.0 L161.5,68.5 L159.9,70.0 L158.4,68.5 L158.4,59.0 ZM148.0,70.5 L149.6,68.9 L157.9,68.9 L159.5,70.5 L157.9,72.0 L149.6,72.0 ZM163.0,43.5 L164.6,42.0 L172.9,42.0 L174.5,43.5 L172.9,45.1 L164.6,45.1 ZM174.9,44.0 L176.5,45.5 L176.5,55.0 L174.9,56.5 L173.4,55.0 L173.4,45.5 ZM174.9,57.5 L176.5,59.0 L176.5,68.5 L174.9,70.0 L173.4,68.5 L173.4,59.0 ZM163.0,70.5 L164.6,68.9 L172.9,68.9 L174.5,70.5 L172.9,72.0 L164.6,72.0 ZM162.6,44.0 L164.1,45.5 L164.1,55.0 L162.6,56.5 L161.0,55.0 L161.0,45.5 ZM163.0,57.0 L164.6,55.5 L172.9,55.5 L174.5,57.0 L172.9,58.5 L164.6,58.5 Z"/>
</g>
<!-- labels -->
<g fill="#241a16">
<g transform="translate(277.3,708) rotate(-8)"><polygon points="-7,5 7,5 0,-6"/></g>
<g transform="translate(308.7,701) rotate(-8)"><polygon points="-7,-5.5 7,-5.5 0,5.5"/></g>
<g transform="translate(372.7,692.2) rotate(-8)"><circle r="7.4" fill="none" stroke="#241a16" stroke-width="2"/><path d="M0,-4.8 V0.6 H4.2" fill="none" stroke="#241a16" stroke-width="1.7"/></g>
<text transform="translate(339.2,697.8) rotate(-8)" y="6" font-size="18" font-weight="700" text-anchor="middle" textLength="23" lengthAdjust="spacingAndGlyphs" style="font-family:'Liberation Serif',serif">SET</text>
<text transform="translate(403.9,689.5) rotate(-8)" y="6" font-size="18" font-weight="700" text-anchor="middle" textLength="27.5" lengthAdjust="spacingAndGlyphs" style="font-family:'Liberation Serif',serif">TIME</text>
<text transform="translate(434.5,684.3) rotate(-8)" y="6" font-size="18" font-weight="700" text-anchor="middle" textLength="29" lengthAdjust="spacingAndGlyphs" style="font-family:'Liberation Serif',serif">PROG</text>
<text transform="translate(462.8,679.6) rotate(-8)" y="6" font-size="18" font-weight="700" text-anchor="middle" textLength="13.7" lengthAdjust="spacingAndGlyphs" style="font-family:'Liberation Serif',serif">ON</text>
<text transform="translate(492.2,674.2) rotate(-8)" y="6" font-size="18" font-weight="700" text-anchor="middle" textLength="20.6" lengthAdjust="spacingAndGlyphs" style="font-family:'Liberation Serif',serif">OFF</text>
</g>
<!-- buttons -->
<g>
<ellipse cx="279.5" cy="733.5" rx="14.5" ry="13.2" fill="#8a8b90"/><ellipse cx="280.0" cy="734.5" rx="14" ry="12" fill="#6b4a38" opacity="0.35"/><ellipse cx="282.3" cy="731.5" rx="13.6" ry="12.6" fill="url(#btn)"/>
<ellipse cx="311.7" cy="728.5" rx="14.5" ry="13.2" fill="#8a8b90"/><ellipse cx="312.2" cy="729.5" rx="14" ry="12" fill="#6b4a38" opacity="0.35"/><ellipse cx="314.5" cy="726.5" rx="13.6" ry="12.6" fill="url(#btn)"/>
<ellipse cx="343.0" cy="723.9" rx="14.5" ry="13.2" fill="#8a8b90"/><ellipse cx="343.5" cy="724.9" rx="14" ry="12" fill="#6b4a38" opacity="0.35"/><ellipse cx="345.8" cy="721.9" rx="13.6" ry="12.6" fill="url(#btn)"/>
<ellipse cx="374.0" cy="718.7" rx="14.5" ry="13.2" fill="#8a8b90"/><ellipse cx="374.5" cy="719.7" rx="14" ry="12" fill="#6b4a38" opacity="0.35"/><ellipse cx="376.8" cy="716.7" rx="13.6" ry="12.6" fill="url(#btn)"/>
<ellipse cx="405.3" cy="714.2" rx="14.5" ry="13.2" fill="#8a8b90"/><ellipse cx="405.8" cy="715.2" rx="14" ry="12" fill="#6b4a38" opacity="0.35"/><ellipse cx="408.1" cy="712.2" rx="13.6" ry="12.6" fill="url(#btn)"/>
<ellipse cx="435.5" cy="709.3" rx="14.5" ry="13.2" fill="#8a8b90"/><ellipse cx="436.0" cy="710.3" rx="14" ry="12" fill="#6b4a38" opacity="0.35"/><ellipse cx="438.3" cy="707.3" rx="13.6" ry="12.6" fill="url(#btn)"/>
<ellipse cx="466.0" cy="705.5" rx="14.5" ry="13.2" fill="#8a8b90"/><ellipse cx="466.5" cy="706.5" rx="14" ry="12" fill="#6b4a38" opacity="0.35"/><ellipse cx="468.8" cy="703.5" rx="13.6" ry="12.6" fill="url(#btn)"/>
<ellipse cx="496.5" cy="700.7" rx="14.5" ry="13.2" fill="#8a8b90"/><ellipse cx="497.0" cy="701.7" rx="14" ry="12" fill="#6b4a38" opacity="0.35"/><ellipse cx="499.3" cy="698.7" rx="13.6" ry="12.6" fill="url(#btn)"/>
</g>
<!-- battery compartment -->
<polygon points="311,758 325.6,756 449,738 452,736 491,730 488,775 329,805 311,805" fill="#64676e"/>
<polygon points="325.6,756 449,738 452,770 329,804" fill="#262529"/>
<path d="M328,760 C350,754 385,748 410,744 C425,742 435,741 445,742" fill="none" stroke="#d92f3b" stroke-width="4.5"/>
<path d="M330,765 C360,760 400,755 430,748" fill="none" stroke="#121214" stroke-width="3"/>
<path d="M330,767 C365,761 410,753 449,752" fill="none" stroke="#0b0b0d" stroke-width="3"/>
<polygon points="334,772 440,752 480,768 480,788 352,801" fill="#141316"/>
<polygon points="380,786 452,772 472,779 430,792 384,797" fill="#cf5f28"/>
<polygon points="404,782 446,775 458,779 425,788" fill="#e2a253" opacity="0.7"/>
<g fill="#ececec">
<polygon points="344,771 352,769 353,776 345,778"/><polygon points="355,768 362,767 363,773 356,775"/>
<polygon points="348,780 360,777 361,784 349,787"/><polygon points="365,774 376,772 377,782 366,784"/>
</g>
<g stroke="#d0d0d0" stroke-width="1.4"><line x1="393" y1="760" x2="440" y2="752"/><line x1="400" y1="767" x2="438" y2="761"/></g>
<polygon points="329,788 365,782 385,796 329,802" fill="#67696f" opacity="0.9"/>
<!-- door -->
<path d="M329,804 L576.3,751.5 C575,760 573,765 572,769 C566,785 557,797 554,801 C540,815 530,822 521.6,826.4 C505,836 495,842 482,846 C465,852 450,856 438.8,857 C425,857.5 412,857 402.8,855 C392,852 383,849 374,844 C365,839 356,833 348.8,826.4 C343,821 338,816 334.4,812 Z" fill="url(#door)"/>
<polyline points="329,804 576.3,751.5" stroke="#8a8c94" stroke-width="1.5" fill="none"/>
<g>
<rect x="390" y="812" width="3.5" height="30" fill="#c4c5c8"/>
<polygon points="393,808 405,806 411,809 411,843 405,846 393,845" fill="#5d5f66"/>
<polygon points="393,808 405,806 405,846 393,845" fill="#7b7d85"/>
<rect x="507" y="786" width="3.5" height="28" fill="#c4c5c8"/>
<polygon points="510,783 526,780 533,783 533,814 526,817 510,815" fill="#5d5f66"/>
<polygon points="510,783 526,780 526,817 510,815" fill="#7b7d85"/>
</g>
</g>
<!-- callouts -->
<g fill="none" stroke="#000">
<circle cx="359.7" cy="369" r="14.9" stroke-width="2.2"/>
<circle cx="359.6" cy="369" r="9.3" stroke-width="2.2"/>
<line x1="356.1" y1="384" x2="356.1" y2="437" stroke-width="2.2"/>
<circle cx="283.8" cy="885.5" r="14.8" stroke-width="2.2"/>
<circle cx="283.6" cy="885.4" r="9.25" stroke-width="2.2"/>
<polyline points="282.4,870.7 282.4,776 395,776" stroke-width="2.6"/>
</g>
<circle cx="357" cy="441" r="5.5" fill="#1db1d3"/>
<circle cx="357" cy="441" r="10.5" fill="none" stroke="#1db1d3" stroke-width="1.3" opacity="0.7"/>
<circle cx="399" cy="775" r="5.5" fill="#1db1d3"/>
<circle cx="399" cy="775" r="10.5" fill="none" stroke="#1db1d3" stroke-width="1.3" opacity="0.7"/>

<g stroke="#ffffff" stroke-width="0.7">
<text x="38.2" y="936" font-size="33.5" font-weight="400" fill="#3b3a3c" textLength="109.0" lengthAdjust="spacingAndGlyphs">AAAX2</text>
<text x="156.0" y="936" font-size="33.5" font-weight="400" fill="#3b3a3c" textLength="59.4" lengthAdjust="spacingAndGlyphs">with</text>
<text x="224.2" y="936" font-size="33.5" font-weight="400" fill="#3b3a3c" textLength="41.6" lengthAdjust="spacingAndGlyphs">an</text>
<text x="272.6" y="936" font-size="33.5" font-weight="400" fill="#3b3a3c" textLength="136.4" lengthAdjust="spacingAndGlyphs">average</text>
<text x="414.0" y="936" font-size="33.5" font-weight="400" fill="#3b3a3c" textLength="117.0" lengthAdjust="spacingAndGlyphs">lifespan</text>
<text x="538.8" y="936" font-size="33.5" font-weight="400" fill="#3b3a3c" textLength="30.6" lengthAdjust="spacingAndGlyphs">of</text>
<text x="578.0" y="936" font-size="33.5" font-weight="400" fill="#3b3a3c" textLength="18.0" lengthAdjust="spacingAndGlyphs">6</text>
<text x="604.0" y="936" font-size="33.5" font-weight="400" fill="#3b3a3c" textLength="111.8" lengthAdjust="spacingAndGlyphs">months</text>
<text x="112.0" y="852.8" font-size="42" font-weight="400" fill="#3b3a3c" textLength="76.8" lengthAdjust="spacingAndGlyphs">3/4”</text>
</g>
<g stroke="#ffffff" stroke-width="0.35">
<text x="305.8" y="894" font-size="22" font-weight="400" fill="#3b3a3c" textLength="81.0" lengthAdjust="spacingAndGlyphs">(battery</text>
<text x="392.6" y="894" font-size="22" font-weight="400" fill="#3b3a3c" textLength="36.8" lengthAdjust="spacingAndGlyphs">Not</text>
<text x="435.2" y="894" font-size="22" font-weight="400" fill="#3b3a3c" textLength="89.8" lengthAdjust="spacingAndGlyphs">included</text>
<text x="530.8" y="894" font-size="22" font-weight="400" fill="#3b3a3c" textLength="8.8" lengthAdjust="spacingAndGlyphs">)</text>
</g>
</svg>
</body></html>
